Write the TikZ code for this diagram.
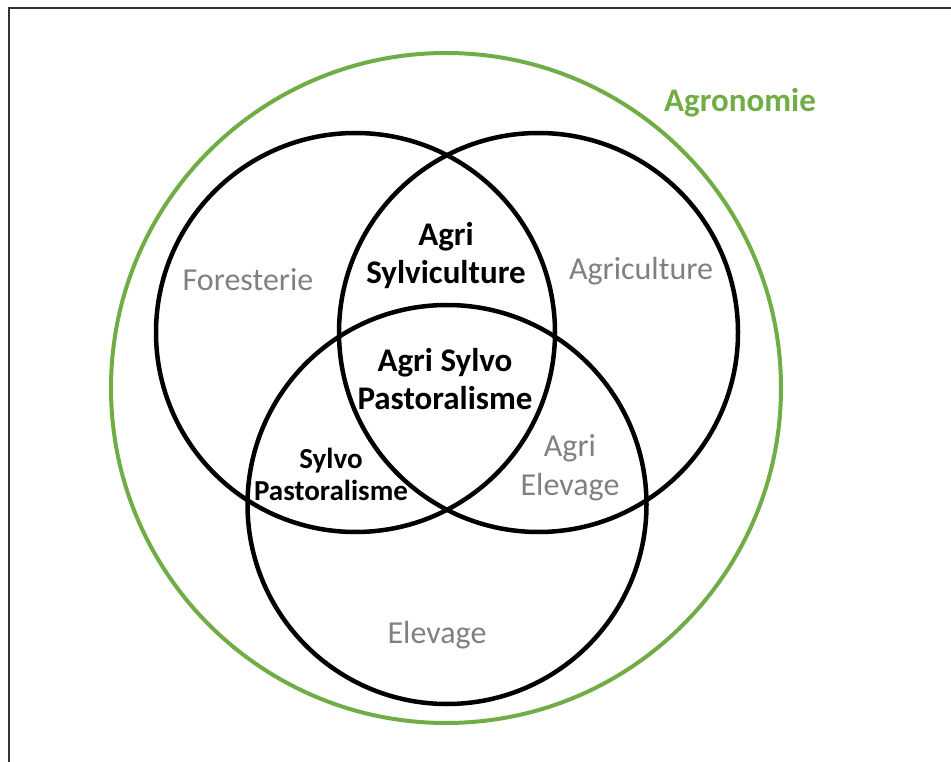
\documentclass[tikz,border=0pt]{standalone}
\usepackage{fontspec}
\setmainfont{Carlito}
\usepackage{tikz}
\usetikzlibrary{positioning}

\definecolor{agrogreen}{RGB}{112,173,71}
\definecolor{labelgray}{RGB}{128,128,128}

\begin{document}
\begin{tikzpicture}[x=1pt, y=-1pt,
  ring/.style={circle, draw=black, line width=4.5pt, minimum size=399pt, inner sep=0pt},
  outer/.style={circle, draw=agrogreen, line width=4pt, minimum size=670pt, inner sep=0pt},
  fieldlabel/.style={anchor=center, text=labelgray, align=center, font=\fontsize{32}{39}\selectfont},
  overlap/.style={anchor=center, text=black, align=center, font=\fontsize{33}{38}\selectfont\bfseries}]
\useasboundingbox (0,0) rectangle (951,762);
\coordinate (CORNERBL) at (9,770);
\coordinate (CORNERTR) at (960,8);
\draw [line width=1.5pt, black!80] (CORNERBL) |- (CORNERTR);
% circles
\node (AGRONOMIE) [outer] at (446,388) {};
\node (FORESTERIE) [ring] at (355.5,332.5) {};
\node (AGRICULTURE) [ring] at (538.5,332.5) {};
\node (ELEVAGE) [ring] at (447,504.5) {};
% labels
\node [anchor=center, text=agrogreen, font=\fontsize{33}{38}\selectfont\bfseries] at (740,103) {Agronomie};
\node [fieldlabel] at (248,280) {Foresterie};
\node [fieldlabel] at (641,271) {Agriculture};
\node [fieldlabel] at (437,635) {Elevage};
\node [fieldlabel] at (570,468) {Agri\\Elevage};
\node [overlap] at (446,256) {Agri\\Sylviculture};
\node [overlap] at (445,379) {Agri Sylvo\\Pastoralisme};
\node [overlap, font=\fontsize{29}{32}\selectfont\bfseries] at (331,474) {Sylvo\\Pastoralisme};
\end{tikzpicture}
\end{document}
